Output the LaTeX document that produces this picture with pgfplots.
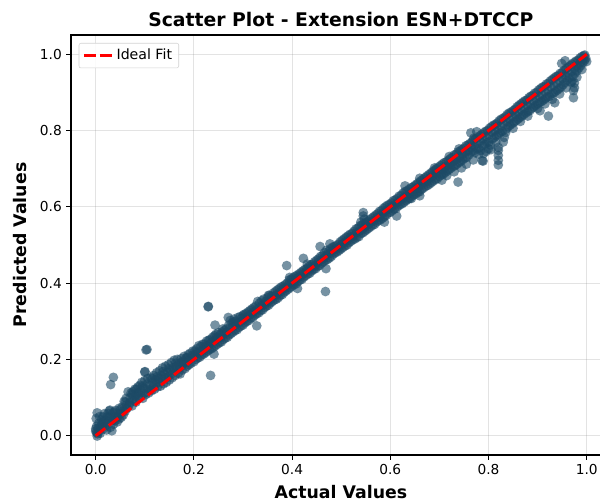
\documentclass[border=0pt]{standalone}
\usepackage{fontspec}
\setmainfont{DejaVu Sans}
\usepackage{pgfplots}
\pgfplotsset{compat=1.18}
\definecolor{pts}{HTML}{1B4965}
\begin{document}
\begin{tikzpicture}
\path[use as bounding box] (0,0) rectangle (450pt,374.25pt);
\clip (0,0) rectangle (450pt,374.25pt);
\begin{axis}[
  clip mode=individual,
  at={(53.25pt,33pt)}, anchor=south west,
  scale only axis, width=404.85pt, height=315pt,
  xmin=-0.0503, xmax=1.0491, ymin=-0.0506, ymax=1.0506,
  xtick={0,0.2,0.4,0.6,0.8,1.0}, ytick={0,0.2,0.4,0.6,0.8,1.0},
  xticklabel style={/pgf/number format/fixed,/pgf/number format/fixed zerofill,/pgf/number format/precision=1},
  yticklabel style={/pgf/number format/fixed,/pgf/number format/fixed zerofill,/pgf/number format/precision=1},
  /pgf/number format/assume math mode=true,
  tick label style={font=\fontsize{10.3}{12}\selectfont},
  tick align=outside, tick pos=left, major tick length=3.4pt,
  tick style={black,line width=0.6pt},
  axis line style={black,line width=0.8pt},
  grid=both, major grid style={gray,opacity=0.22,line width=0.7pt},
  title={\bfseries Scatter Plot - Extension ESN+DTCCP},
  title style={font=\fontsize{14.1}{16}\selectfont,at={(0.5,1)},anchor=south,yshift=-3.5pt},
  xlabel={\bfseries Actual Values},
  ylabel={\bfseries Predicted Values},
  xlabel style={font=\fontsize{13}{15}\selectfont,at={(0.5,0)},anchor=north,inner ysep=0pt,text depth=0pt,yshift=-22.8pt},
  ylabel style={font=\fontsize{13}{15}\selectfont,yshift=3pt},
  legend style={at={(0.0143,0.981)},anchor=north west,rounded corners=1.5pt,draw=gray!35,
    font=\fontsize{10.6}{12}\selectfont,inner xsep=3pt,inner ysep=2.5pt,fill=white,fill opacity=0.85,text opacity=1},
  legend cell align=left,
  legend image code/.code={\draw[red,line width=2.2pt,dash pattern=on 9pt off 2.6pt] (0pt,0pt) -- (21pt,0pt);},
  legend style={/tikz/every even column/.append style={column sep=7pt}},
]
\addplot[forget plot,only marks,mark=*,mark size=3.6pt,
  mark options={fill=pts,draw=pts,fill opacity=0.6,draw opacity=0.12,line width=0.4pt}]
table[row sep=crcr]{
0.000 0.012\\ 0.002 0.025\\ 0.003 0.060\\ 0.003 -0.001\\ 0.001 0.045\\ 0.004 0.005\\ 0.000 0.018\\ 0.002 0.008\\
0.006 0.032\\ 0.008 0.050\\ 0.007 0.012\\ 0.010 0.020\\ 0.012 0.042\\ 0.009 0.006\\ 0.013 0.030\\ 0.015 0.018\\
0.018 0.058\\ 0.020 0.026\\ 0.017 0.040\\ 0.022 0.015\\ 0.024 0.050\\ 0.026 0.038\\ 0.028 0.065\\ 0.029 0.067\\
0.030 0.022\\ 0.033 0.013\\ 0.032 0.045\\ 0.035 0.060\\ 0.036 0.030\\ 0.038 0.062\\ 0.040 0.040\\ 0.042 0.052\\
0.044 0.036\\ 0.046 0.058\\ 0.048 0.044\\ 0.050 0.068\\ 0.052 0.048\\ 0.054 0.075\\ 0.056 0.054\\ 0.058 0.090\\
0.060 0.064\\ 0.062 0.098\\ 0.064 0.072\\ 0.066 0.115\\ 0.068 0.080\\ 0.070 0.100\\ 0.072 0.112\\ 0.074 0.078\\
0.076 0.116\\ 0.078 0.092\\ 0.080 0.122\\ 0.082 0.088\\ 0.084 0.110\\ 0.086 0.128\\ 0.088 0.098\\ 0.090 0.132\\
0.092 0.105\\ 0.094 0.140\\ 0.096 0.098\\ 0.098 0.125\\ 0.100 0.145\\ 0.102 0.108\\ 0.104 0.135\\ 0.106 0.150\\
0.108 0.112\\ 0.110 0.132\\ 0.112 0.152\\ 0.114 0.118\\ 0.116 0.140\\ 0.118 0.158\\ 0.120 0.122\\ 0.122 0.146\\
0.124 0.165\\ 0.126 0.128\\ 0.128 0.150\\ 0.130 0.170\\ 0.132 0.130\\ 0.134 0.158\\ 0.136 0.178\\ 0.138 0.136\\
0.140 0.162\\ 0.142 0.182\\ 0.144 0.140\\ 0.146 0.166\\ 0.148 0.186\\ 0.150 0.146\\ 0.152 0.172\\ 0.154 0.192\\
0.156 0.152\\ 0.158 0.178\\ 0.160 0.198\\ 0.162 0.158\\ 0.164 0.182\\ 0.166 0.200\\ 0.168 0.164\\ 0.170 0.190\\
0.172 0.162\\ 0.174 0.202\\ 0.176 0.172\\ 0.178 0.196\\ 0.180 0.208\\ 0.182 0.176\\ 0.184 0.204\\ 0.186 0.182\\
0.188 0.212\\ 0.190 0.186\\ 0.192 0.216\\ 0.194 0.190\\ 0.196 0.210\\ 0.198 0.222\\ 0.200 0.194\\ 0.202 0.222\\
0.204 0.200\\ 0.206 0.228\\ 0.208 0.204\\ 0.210 0.236\\ 0.212 0.206\\ 0.214 0.234\\ 0.216 0.212\\ 0.218 0.240\\
0.220 0.214\\ 0.222 0.232\\ 0.224 0.218\\ 0.226 0.248\\ 0.228 0.222\\ 0.230 0.250\\ 0.232 0.226\\ 0.234 0.242\\
0.236 0.228\\ 0.238 0.258\\ 0.240 0.232\\ 0.242 0.262\\ 0.244 0.236\\ 0.246 0.258\\ 0.248 0.240\\ 0.250 0.270\\
0.252 0.244\\ 0.254 0.266\\ 0.256 0.246\\ 0.258 0.272\\ 0.260 0.252\\ 0.262 0.276\\ 0.264 0.256\\ 0.266 0.280\\
0.268 0.258\\ 0.270 0.310\\ 0.272 0.264\\ 0.274 0.302\\ 0.276 0.268\\ 0.278 0.296\\ 0.280 0.272\\ 0.282 0.306\\
0.284 0.276\\ 0.286 0.300\\ 0.288 0.278\\ 0.290 0.310\\ 0.292 0.284\\ 0.294 0.312\\ 0.296 0.288\\ 0.298 0.308\\
0.300 0.290\\ 0.302 0.318\\ 0.304 0.296\\ 0.306 0.320\\ 0.308 0.300\\ 0.310 0.324\\ 0.312 0.302\\ 0.314 0.328\\
0.316 0.308\\ 0.318 0.332\\ 0.320 0.310\\ 0.322 0.336\\ 0.324 0.316\\ 0.326 0.340\\ 0.328 0.320\\ 0.330 0.352\\
0.332 0.322\\ 0.334 0.348\\ 0.336 0.328\\ 0.338 0.354\\ 0.340 0.330\\ 0.342 0.358\\ 0.344 0.336\\ 0.346 0.352\\
0.348 0.340\\ 0.350 0.362\\ 0.352 0.342\\ 0.354 0.368\\ 0.356 0.348\\ 0.358 0.366\\ 0.360 0.352\\ 0.362 0.374\\
0.364 0.356\\ 0.366 0.378\\ 0.368 0.358\\ 0.370 0.382\\ 0.372 0.362\\ 0.374 0.386\\ 0.376 0.368\\ 0.378 0.390\\
0.380 0.370\\ 0.382 0.392\\ 0.384 0.376\\ 0.386 0.396\\ 0.388 0.380\\ 0.390 0.400\\ 0.392 0.384\\ 0.394 0.408\\
0.396 0.388\\ 0.398 0.410\\ 0.400 0.392\\ 0.402 0.414\\ 0.404 0.396\\ 0.406 0.418\\ 0.408 0.398\\ 0.410 0.420\\
0.412 0.404\\ 0.414 0.424\\ 0.416 0.408\\ 0.418 0.428\\ 0.420 0.410\\ 0.422 0.432\\ 0.424 0.416\\ 0.426 0.436\\
0.428 0.420\\ 0.430 0.438\\ 0.432 0.424\\ 0.434 0.444\\ 0.436 0.426\\ 0.438 0.448\\ 0.440 0.432\\ 0.442 0.450\\
0.444 0.436\\ 0.446 0.456\\ 0.448 0.438\\ 0.450 0.460\\ 0.452 0.444\\ 0.454 0.464\\ 0.456 0.446\\ 0.458 0.470\\
0.460 0.452\\ 0.462 0.472\\ 0.464 0.456\\ 0.466 0.480\\ 0.468 0.460\\ 0.470 0.486\\ 0.472 0.462\\ 0.474 0.482\\
0.476 0.466\\ 0.478 0.490\\ 0.480 0.470\\ 0.482 0.494\\ 0.484 0.476\\ 0.486 0.496\\ 0.488 0.480\\ 0.490 0.498\\
0.492 0.482\\ 0.494 0.502\\ 0.496 0.486\\ 0.498 0.508\\ 0.500 0.490\\ 0.502 0.512\\ 0.504 0.494\\ 0.506 0.516\\
0.508 0.498\\ 0.510 0.520\\ 0.512 0.500\\ 0.514 0.524\\ 0.516 0.506\\ 0.518 0.528\\ 0.520 0.510\\ 0.522 0.530\\
0.524 0.514\\ 0.526 0.536\\ 0.528 0.516\\ 0.530 0.542\\ 0.532 0.520\\ 0.534 0.544\\ 0.536 0.522\\ 0.538 0.550\\
0.540 0.530\\ 0.542 0.552\\ 0.544 0.532\\ 0.546 0.556\\ 0.548 0.536\\ 0.550 0.558\\ 0.552 0.540\\ 0.554 0.562\\
0.556 0.544\\ 0.558 0.566\\ 0.560 0.548\\ 0.562 0.570\\ 0.564 0.552\\ 0.566 0.574\\ 0.568 0.554\\ 0.570 0.578\\
0.572 0.560\\ 0.574 0.582\\ 0.576 0.564\\ 0.578 0.588\\ 0.580 0.566\\ 0.582 0.590\\ 0.584 0.570\\ 0.586 0.596\\
0.588 0.574\\ 0.590 0.600\\ 0.592 0.578\\ 0.594 0.604\\ 0.596 0.584\\ 0.598 0.606\\ 0.600 0.586\\ 0.602 0.610\\
0.604 0.590\\ 0.606 0.616\\ 0.608 0.594\\ 0.610 0.618\\ 0.612 0.596\\ 0.614 0.622\\ 0.616 0.602\\ 0.618 0.628\\
0.620 0.606\\ 0.622 0.630\\ 0.624 0.608\\ 0.626 0.636\\ 0.628 0.612\\ 0.630 0.640\\ 0.632 0.616\\ 0.634 0.642\\
0.636 0.620\\ 0.638 0.646\\ 0.640 0.622\\ 0.642 0.650\\ 0.644 0.628\\ 0.646 0.652\\ 0.648 0.632\\ 0.650 0.656\\
0.652 0.634\\ 0.654 0.660\\ 0.656 0.638\\ 0.658 0.664\\ 0.660 0.640\\ 0.662 0.668\\ 0.664 0.646\\ 0.666 0.672\\
0.668 0.650\\ 0.670 0.676\\ 0.672 0.654\\ 0.674 0.680\\ 0.676 0.656\\ 0.678 0.684\\ 0.680 0.660\\ 0.682 0.688\\
0.684 0.664\\ 0.686 0.692\\ 0.688 0.668\\ 0.690 0.696\\ 0.692 0.672\\ 0.694 0.700\\ 0.696 0.674\\ 0.698 0.704\\
0.700 0.680\\ 0.702 0.708\\ 0.704 0.684\\ 0.706 0.712\\ 0.708 0.686\\ 0.710 0.716\\ 0.712 0.690\\ 0.714 0.718\\
0.716 0.694\\ 0.718 0.722\\ 0.720 0.698\\ 0.722 0.726\\ 0.724 0.702\\ 0.726 0.730\\ 0.728 0.706\\ 0.730 0.736\\
0.732 0.708\\ 0.734 0.738\\ 0.736 0.712\\ 0.738 0.744\\ 0.740 0.716\\ 0.742 0.746\\ 0.744 0.720\\ 0.746 0.750\\
0.748 0.724\\ 0.750 0.754\\ 0.752 0.728\\ 0.754 0.760\\ 0.756 0.730\\ 0.758 0.762\\ 0.760 0.736\\ 0.762 0.766\\
0.764 0.744\\ 0.766 0.770\\ 0.768 0.746\\ 0.770 0.776\\ 0.772 0.742\\ 0.774 0.778\\ 0.776 0.752\\ 0.778 0.782\\
0.780 0.754\\ 0.782 0.786\\ 0.784 0.748\\ 0.786 0.790\\ 0.788 0.760\\ 0.790 0.794\\ 0.792 0.764\\ 0.794 0.798\\
0.796 0.768\\ 0.798 0.800\\ 0.800 0.770\\ 0.802 0.806\\ 0.804 0.762\\ 0.806 0.810\\ 0.808 0.778\\ 0.810 0.814\\
0.812 0.782\\ 0.814 0.816\\ 0.816 0.786\\ 0.818 0.820\\ 0.820 0.790\\ 0.822 0.826\\ 0.824 0.794\\ 0.826 0.830\\
0.828 0.798\\ 0.830 0.832\\ 0.832 0.782\\ 0.834 0.836\\ 0.836 0.804\\ 0.838 0.842\\ 0.840 0.810\\ 0.842 0.846\\
0.844 0.814\\ 0.846 0.848\\ 0.848 0.818\\ 0.850 0.852\\ 0.852 0.822\\ 0.854 0.856\\ 0.856 0.826\\ 0.858 0.862\\
0.860 0.830\\ 0.862 0.866\\ 0.864 0.834\\ 0.866 0.870\\ 0.868 0.838\\ 0.870 0.874\\ 0.872 0.842\\ 0.874 0.878\\
0.876 0.846\\ 0.878 0.880\\ 0.880 0.850\\ 0.882 0.886\\ 0.884 0.852\\ 0.886 0.890\\ 0.888 0.858\\ 0.890 0.892\\
0.892 0.862\\ 0.894 0.898\\ 0.896 0.866\\ 0.898 0.900\\ 0.900 0.870\\ 0.902 0.906\\ 0.904 0.874\\ 0.906 0.910\\
0.908 0.876\\ 0.910 0.914\\ 0.912 0.880\\ 0.914 0.916\\ 0.916 0.884\\ 0.918 0.922\\ 0.920 0.888\\ 0.922 0.924\\
0.924 0.890\\ 0.926 0.930\\ 0.928 0.896\\ 0.930 0.934\\ 0.932 0.898\\ 0.934 0.938\\ 0.936 0.902\\ 0.938 0.942\\
0.940 0.906\\ 0.942 0.944\\ 0.944 0.910\\ 0.946 0.950\\ 0.948 0.914\\ 0.950 0.952\\ 0.952 0.920\\ 0.954 0.958\\
0.956 0.926\\ 0.958 0.962\\ 0.960 0.932\\ 0.962 0.966\\ 0.964 0.938\\ 0.966 0.970\\ 0.968 0.926\\ 0.970 0.974\\
0.972 0.942\\ 0.974 0.978\\ 0.976 0.950\\ 0.978 0.982\\ 0.980 0.956\\ 0.982 0.984\\ 0.984 0.964\\ 0.986 0.990\\
0.988 0.970\\ 0.990 0.994\\ 0.992 0.978\\ 0.994 0.996\\ 0.996 0.984\\ 0.998 0.990\\ 1.000 0.981\\ 0.996 0.998\\
0.229 0.338\\ 0.2295 0.339\\ 0.243 0.290\\ 0.328 0.288\\ 0.234 0.158\\ 0.241 0.214\\ 0.1025 0.225\\ 0.1045 0.226\\
0.0998 0.167\\ 0.1005 0.168\\ 0.036 0.153\\ 0.0305 0.134\\ 0.389 0.446\\ 0.468 0.378\\ 0.423 0.465\\ 0.457 0.496\\
0.477 0.503\\ 0.411 0.386\\ 0.469 0.438\\ 0.545 0.585\\ 0.545 0.576\\ 0.547 0.568\\ 0.588 0.560\\ 0.613 0.576\\
0.630 0.655\\ 0.738 0.665\\ 0.705 0.670\\ 0.660 0.629\\ 0.643 0.622\\ 0.764 0.794\\ 0.776 0.797\\
0.820 0.756\\ 0.820 0.748\\ 0.820 0.735\\ 0.820 0.722\\ 0.820 0.710\\ 0.789 0.720\\ 0.769 0.723\\ 0.787 0.721\\
0.905 0.852\\ 0.922 0.838\\ 0.935 0.873\\ 0.973 0.886\\ 0.973 0.905\\ 0.956 0.983\\ 0.949 0.976\\ 0.975 0.925\\
0.005 0.020\\ 0.011 0.027\\ 0.016 0.036\\ 0.021 0.033\\ 0.027 0.048\\ 0.034 0.040\\ 0.039 0.050\\ 0.045 0.049\\
0.051 0.058\\ 0.057 0.066\\ 0.063 0.081\\ 0.069 0.086\\ 0.075 0.094\\ 0.081 0.104\\ 0.087 0.112\\ 0.093 0.118\\
0.099 0.111\\ 0.105 0.122\\ 0.111 0.120\\ 0.117 0.129\\ 0.123 0.136\\ 0.129 0.141\\ 0.135 0.148\\ 0.141 0.152\\
0.147 0.154\\ 0.153 0.161\\ 0.159 0.170\\ 0.165 0.176\\ 0.171 0.178\\ 0.177 0.186\\ 0.183 0.192\\ 0.189 0.198\\
0.195 0.204\\ 0.201 0.210\\ 0.207 0.215\\ 0.213 0.222\\ 0.219 0.226\\ 0.225 0.236\\ 0.231 0.238\\ 0.237 0.246\\
0.243 0.250\\ 0.249 0.256\\ 0.255 0.258\\ 0.261 0.266\\ 0.267 0.272\\ 0.273 0.282\\ 0.279 0.286\\ 0.285 0.290\\
0.291 0.296\\ 0.297 0.300\\ 0.303 0.306\\ 0.309 0.312\\ 0.315 0.318\\ 0.321 0.324\\ 0.327 0.330\\ 0.333 0.336\\
0.339 0.342\\ 0.345 0.346\\ 0.351 0.352\\ 0.357 0.358\\ 0.363 0.366\\ 0.369 0.370\\ 0.375 0.376\\ 0.381 0.384\\
0.387 0.388\\ 0.393 0.396\\ 0.399 0.402\\ 0.405 0.406\\ 0.411 0.414\\ 0.417 0.418\\ 0.423 0.424\\ 0.429 0.430\\
0.435 0.436\\ 0.441 0.442\\ 0.447 0.446\\ 0.453 0.454\\ 0.459 0.460\\ 0.465 0.466\\ 0.471 0.474\\ 0.477 0.478\\
0.483 0.486\\ 0.489 0.490\\ 0.495 0.494\\ 0.501 0.502\\ 0.507 0.506\\ 0.513 0.512\\ 0.519 0.520\\ 0.525 0.524\\
0.531 0.532\\ 0.537 0.536\\ 0.543 0.542\\ 0.549 0.548\\ 0.555 0.554\\ 0.561 0.560\\ 0.567 0.564\\ 0.573 0.572\\
0.579 0.576\\ 0.585 0.584\\ 0.591 0.590\\ 0.597 0.594\\ 0.603 0.600\\ 0.609 0.606\\ 0.615 0.612\\ 0.621 0.618\\
0.627 0.624\\ 0.633 0.630\\ 0.639 0.634\\ 0.645 0.640\\ 0.651 0.646\\ 0.657 0.652\\ 0.663 0.658\\ 0.669 0.664\\
0.675 0.668\\ 0.681 0.676\\ 0.687 0.680\\ 0.693 0.686\\ 0.699 0.692\\ 0.705 0.698\\ 0.711 0.704\\ 0.717 0.708\\
0.723 0.714\\ 0.729 0.720\\ 0.735 0.724\\ 0.741 0.730\\ 0.747 0.738\\ 0.753 0.744\\ 0.759 0.748\\ 0.765 0.756\\
0.771 0.760\\ 0.777 0.766\\ 0.783 0.772\\ 0.789 0.778\\ 0.795 0.784\\ 0.801 0.788\\ 0.807 0.796\\ 0.813 0.800\\
0.819 0.804\\ 0.825 0.812\\ 0.831 0.818\\ 0.837 0.824\\ 0.843 0.830\\ 0.849 0.836\\ 0.855 0.842\\ 0.861 0.848\\
0.867 0.854\\ 0.873 0.858\\ 0.879 0.866\\ 0.885 0.870\\ 0.891 0.878\\ 0.897 0.884\\ 0.903 0.890\\ 0.909 0.894\\
0.915 0.902\\ 0.921 0.906\\ 0.927 0.914\\ 0.933 0.918\\ 0.939 0.924\\ 0.945 0.930\\ 0.951 0.936\\ 0.957 0.944\\
0.963 0.950\\ 0.969 0.954\\ 0.975 0.962\\ 0.981 0.970\\ 0.987 0.978\\ 0.993 0.986\\
0.790 0.740\\ 0.800 0.752\\ 0.815 0.770\\ 0.835 0.795\\ 0.850 0.806\\ 0.865 0.824\\ 0.880 0.838\\ 0.900 0.858\\
0.915 0.870\\ 0.930 0.882\\ 0.945 0.896\\ 0.958 0.912\\ 0.970 0.928\\ 0.980 0.940\\ 0.990 0.960\\ 0.975 0.912\\
0.015 0.050\\ 0.025 0.058\\ 0.040 0.066\\ 0.048 0.072\\ 0.060 0.088\\ 0.074 0.108\\ 0.083 0.122\\ 0.095 0.130\\
0.115 0.150\\ 0.125 0.155\\ 0.137 0.168\\ 0.149 0.176\\ 0.163 0.190\\ 0.175 0.192\\ 0.187 0.205\\ 0.205 0.218\\
0.221 0.240\\ 0.233 0.252\\ 0.245 0.266\\ 0.259 0.280\\ 0.271 0.290\\ 0.281 0.298\\ 0.300 0.315\\ 0.352 0.368\\
0.395 0.415\\ 0.431 0.450\\ 0.540 0.560\\ 0.660 0.675\\ 0.690 0.702\\ 0.720 0.732\\ 0.740 0.752\\ 0.770 0.780\\
0.805 0.750\\ 0.795 0.745\\ 0.780 0.738\\ 0.830 0.770\\ 0.755 0.712\\ 0.745 0.702\\ 0.730 0.692\\ 0.715 0.682\\
};
\addplot[red,line width=2.2pt,dash pattern=on 9pt off 3.4pt] coordinates {(0,0) (1,1)};
\addlegendentry{Ideal Fit}
\end{axis}
\end{tikzpicture}
\end{document}
